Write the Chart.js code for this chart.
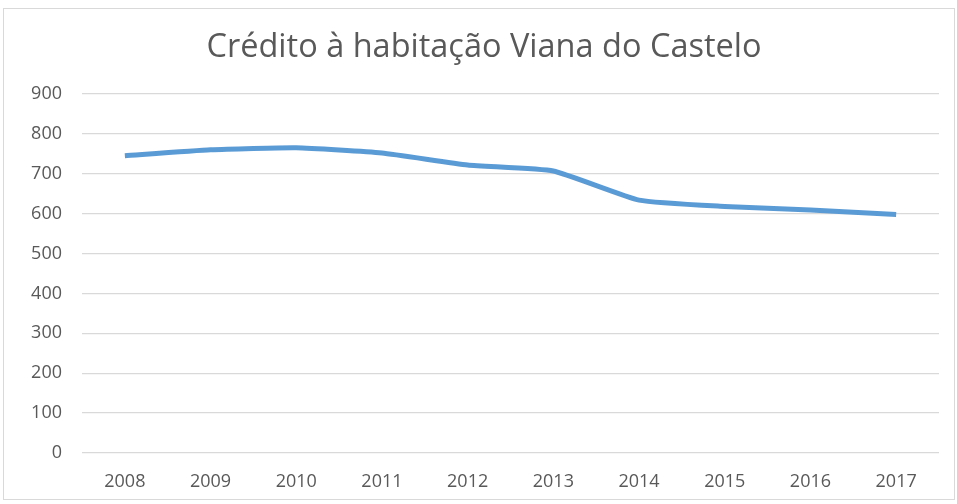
<!DOCTYPE html>
<html lang="pt">
<head>
  <meta charset="UTF-8" />
  <title>Crédito à habitação Viana do Castelo</title>
  <script src="https://cdn.jsdelivr.net/npm/chart.js"></script>
  <style>
    html, body { margin: 0; padding: 0; background: #fff; }
    .frame {
      position: absolute; left: 3px; top: 8px; width: 952px; height: 492px;
      border: 1px solid #d9d9d9; box-sizing: border-box;
    }
    #chart { display: block; }
  </style>
</head>
<body>
  <div class="frame"><canvas id="chart" width="950" height="490"></canvas></div>

  <script>
    const years = ["2008", "2009", "2010", "2011", "2012", "2013", "2014", "2015", "2016", "2017"];
    const credito = [745, 760, 765, 752, 722, 707, 634, 618, 609, 598];
    const yTicks = [0, 100, 200, 300, 400, 500, 600, 700, 800, 900];

    const ctx = document.getElementById("chart").getContext("2d");
    new Chart(ctx, {
      type: "line",
      data: {
        labels: years,
        datasets: [{
          label: "Crédito à habitação",
          data: credito,
          borderColor: "#5b9bd5",
          borderWidth: 5,
          pointRadius: 0,
          tension: 0.15,
          fill: false
        }]
      },
      options: {
        responsive: false,
        animation: false,
        layout: { padding: { left: 25, right: 15, top: 0, bottom: 0 } },
        plugins: {
          legend: { display: false },
          tooltip: { enabled: false },
          title: {
            display: true,
            text: "Crédito à habitação Viana do Castelo",
            color: "#595959",
            font: { family: "Open Sans", size: 32.5, weight: "normal" },
            padding: { top: 19, bottom: 27 }
          }
        },
        scales: {
          x: {
            offset: true,
            grid: { display: false, drawTicks: false },
            border: { display: false },
            ticks: { color: "#595959", font: { family: "Open Sans", size: 18 }, padding: 18 },
            afterFit: axis => { axis.height = 46; }
          },
          y: {
            min: 0, max: 900,
            afterBuildTicks: axis => { axis.ticks = yTicks.map(v => ({ value: v })); },
            grid: { color: "#d9d9d9", lineWidth: 1.3, drawTicks: false },
            border: { display: false },
            ticks: { color: "#595959", font: { family: "Open Sans", size: 18 }, padding: 20 },
            afterFit: axis => { axis.width = 53; }
          }
        }
      }
    });
  </script>
</body>
</html>
